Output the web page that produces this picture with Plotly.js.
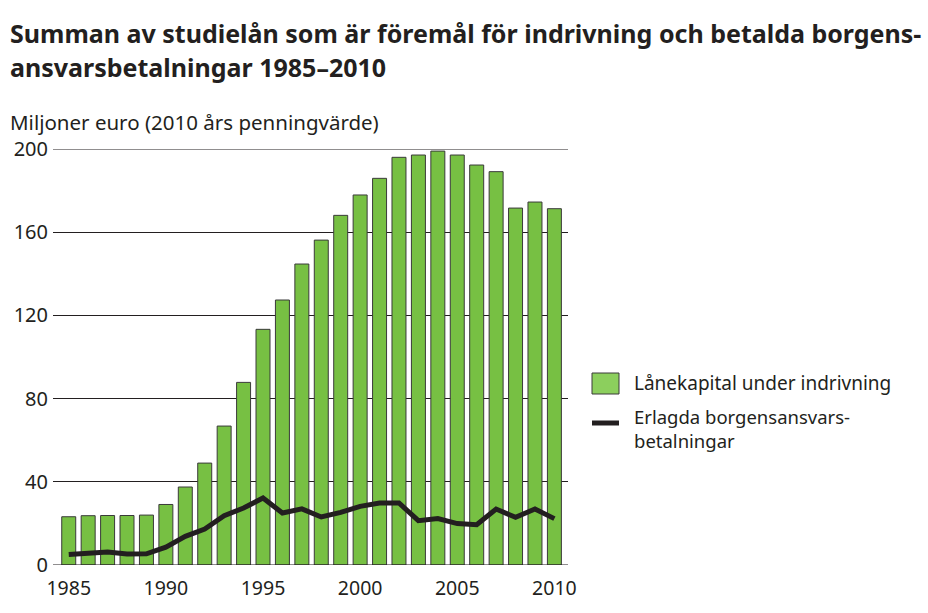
<!DOCTYPE html>
<html><head><meta charset="utf-8">
<script src="https://cdn.plot.ly/plotly-3.0.1.min.js"></script>
<style>body{margin:0;background:#fff}#c{width:928px;height:613px}</style>
</head><body><div id="c"></div>
<script>
const years = [1985,1986,1987,1988,1989,1990,1991,1992,1993,1994,1995,1996,1997,1998,1999,2000,2001,2002,2003,2004,2005,2006,2007,2008,2009,2010];
const loanCapital = [23.2,23.7,23.8,23.8,24,29.1,37.5,49,66.8,87.8,113.3,127.4,144.7,156.2,168.1,177.9,185.9,196,197.1,199,197.1,192.3,189.1,171.6,174.5,171.3];
const guaranteePayments = [5.1,5.8,6.2,5.3,5.4,8.6,13.8,17.3,23.7,27.4,32.2,25,27,23.1,25.3,28.2,29.8,29.8,21.3,22.3,19.9,19.4,26.9,22.9,26.9,22.3];
const yTicks = [0,40,80,120,160,200];
const xTicks = [1985,1990,1995,2000,2005,2010];
const seriesNames = ['Lånekapital under indrivning','Erlagda borgensansvars-','betalningar'];

const F = 'Noto Sans, Open Sans, sans-serif';
const ink = '#231f20';
const green = '#77c043';
const px = v => (v-53)/515;
const py = v => (565-v)/416;

const traces = [
  {type:'bar', x:years, y:loanCapital, width:0.72, name:seriesNames[0],
   marker:{color:green, line:{color:'#3a3a3a', width:1}}, showlegend:false, cliponaxis:false},
  {type:'scatter', mode:'lines', x:years, y:guaranteePayments, name:seriesNames[1],
   line:{color:ink, width:5}, showlegend:false}
];

const layout = {
  width:928, height:613,
  margin:{l:53, r:360, t:149, b:48},
  paper_bgcolor:'#fff', plot_bgcolor:'#fff',
  font:{family:F, color:ink, size:19},
  xaxis:{range:[1984.19,2010.7], tickvals:xTicks, ticktext:xTicks.map(String), showgrid:false,
         zeroline:false, showline:false, ticks:'', ticklabelstandoff:9, tickfont:{size:19.5, color:ink}},
  yaxis:{range:[0,200], tickvals:yTicks, showgrid:true, gridcolor:ink, gridwidth:1, zeroline:false,
         showline:false, ticks:'', ticklabelstandoff:4, tickfont:{size:20, color:ink}},
  shapes:[
    {type:'line', xref:'paper', yref:'y', x0:0, x1:1, y0:0, y1:0, line:{color:ink, width:1.2}, layer:'above'},
    {type:'line', xref:'paper', yref:'y', x0:0, x1:1, y0:200, y1:200, line:{color:ink, width:1}, layer:'below'},
    {type:'rect', xref:'paper', yref:'paper', x0:px(592), x1:px(619), y0:py(394), y1:py(373),
     fillcolor:'#8ccf5d', line:{color:'#3a3a3a', width:1}},
    {type:'line', xref:'paper', yref:'paper', x0:px(592), x1:px(619), y0:py(423), y1:py(423),
     line:{color:ink, width:5}}
  ],
  annotations:[
    {text:'<b>Summan av studielån som är föremål för indrivning och betalda borgens-</b>', xref:'paper', yref:'paper',
     x:px(8), y:py(33), xanchor:'left', yanchor:'middle', showarrow:false, font:{size:25, color:ink}},
    {text:'<b>ansvarsbetalningar 1985–2010</b>', xref:'paper', yref:'paper',
     x:px(8), y:py(67), xanchor:'left', yanchor:'middle', showarrow:false, font:{size:25, color:ink}},
    {text:'Miljoner euro (2010 års penningvärde)', xref:'paper', yref:'paper', x:px(8), y:py(122),
     xanchor:'left', yanchor:'middle', showarrow:false, font:{size:20.5, color:ink}},
    {text:seriesNames[0], xref:'paper', yref:'paper', x:px(632), y:py(383),
     xanchor:'left', yanchor:'middle', showarrow:false, font:{size:19, color:ink}},
    {text:seriesNames[1], xref:'paper', yref:'paper', x:px(632), y:py(416),
     xanchor:'left', yanchor:'middle', showarrow:false, font:{size:18.5, color:ink}},
    {text:seriesNames[2], xref:'paper', yref:'paper', x:px(632), y:py(440),
     xanchor:'left', yanchor:'middle', showarrow:false, font:{size:18.5, color:ink}}
  ]
};
Plotly.newPlot('c', traces, layout, {displayModeBar:false, staticPlot:true});
</script></body></html>
